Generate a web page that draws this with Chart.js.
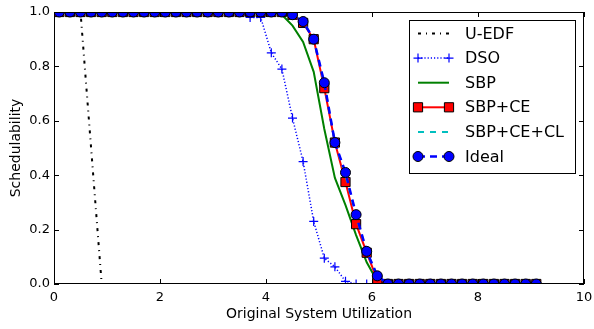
<!DOCTYPE html>
<html lang="en">
<head>
<meta charset="UTF-8" />
<title>Schedulability vs. Original System Utilization</title>
<script src="https://cdn.jsdelivr.net/npm/chart.js@4.4.1/dist/chart.umd.min.js"></script>
<style>
  html, body { margin: 0; padding: 0; background: #fff; }
  #wrap { width: 594px; height: 329px; }
</style>
</head>
<body>
<div id="wrap"><canvas id="schedChart"></canvas></div>
<script>
  // utilization sample points (x axis)
  const utilization = [0.1, 0.3, 0.5, 0.7, 0.9, 1.1, 1.3, 1.5, 1.7, 1.9,
    2.1, 2.3, 2.5, 2.7, 2.9, 3.1, 3.3, 3.5, 3.7, 3.9,
    4.1, 4.3, 4.5, 4.7, 4.9, 5.1, 5.3, 5.5, 5.7, 5.9,
    6.1, 6.3, 6.5, 6.7, 6.9, 7.1, 7.3, 7.5, 7.7, 7.9,
    8.1, 8.3, 8.5, 8.7, 8.9, 9.1];

  const uEdf = [1, 1, 1, 0.5, 0, 0, 0, 0, 0, 0,
    0, 0, 0, 0, 0, 0, 0, 0, 0, 0,
    0, 0, 0, 0, 0, 0, 0, 0, 0, 0,
    0, 0, 0, 0, 0, 0, 0, 0, 0, 0,
    0, 0, 0, 0, 0, 0];

  const dso = [1, 1, 1, 1, 1, 1, 1, 1, 1, 1,
    1, 1, 1, 1, 1, 1, 1, 1, 0.98, 0.98,
    0.85, 0.79, 0.61, 0.45, 0.23, 0.095, 0.063, 0.01, 0, 0,
    0, 0, 0, 0, 0, 0, 0, 0, 0, 0,
    0, 0, 0, 0, 0, 0];

  const sbp = [1, 1, 1, 1, 1, 1, 1, 1, 1, 1,
    1, 1, 1, 1, 1, 1, 1, 1, 1, 1,
    1, 0.99, 0.95, 0.89, 0.78, 0.57, 0.39, 0.29, 0.18, 0.08,
    0.01, 0, 0, 0, 0, 0, 0, 0, 0, 0,
    0, 0, 0, 0, 0, 0];

  const sbpCe = [1, 1, 1, 1, 1, 1, 1, 1, 1, 1,
    1, 1, 1, 1, 1, 1, 1, 1, 1, 1,
    1, 1, 0.99, 0.96, 0.9, 0.72, 0.52, 0.375, 0.22, 0.115,
    0.015, 0, 0, 0, 0, 0, 0, 0, 0, 0,
    0, 0, 0, 0, 0, 0];

  const sbpCeCl = [1, 1, 1, 1, 1, 1, 1, 1, 1, 1,
    1, 1, 1, 1, 1, 1, 1, 1, 1, 1,
    1, 1, 0.99, 0.965, 0.9, 0.735, 0.52, 0.4, 0.25, 0.12,
    0.03, 0, 0, 0, 0, 0, 0, 0, 0, 0,
    0, 0, 0, 0, 0, 0];

  const ideal = [1, 1, 1, 1, 1, 1, 1, 1, 1, 1,
    1, 1, 1, 1, 1, 1, 1, 1, 1, 1,
    1, 1, 0.99, 0.965, 0.9, 0.74, 0.52, 0.41, 0.255, 0.12,
    0.03, 0, 0, 0, 0, 0, 0, 0, 0, 0,
    0, 0, 0, 0, 0, 0];

  const xTicks = [0, 2, 4, 6, 8, 10];
  const yTicks = [0, 0.2, 0.4, 0.6, 0.8, 1.0];

  const FONT = "'DejaVu Sans', sans-serif";

  function pts(ys) {
    return utilization.map((x, i) => ({ x: x, y: ys[i] }));
  }

  const datasets = [
    {
      label: "U-EDF", data: pts(uEdf),
      borderColor: "#000000", borderWidth: 2, borderDash: [3, 5, 1, 5],
      pointRadius: 0, order: 6
    },
    {
      label: "DSO", data: pts(dso),
      borderColor: "#0000ff", borderWidth: 1.5, borderDash: [1.2, 2],
      pointStyle: "cross", pointRadius: 4.5, pointBorderWidth: 1.2,
      pointBorderColor: "#0000ff", order: 5
    },
    {
      label: "SBP", data: pts(sbp),
      borderColor: "#008000", borderWidth: 2,
      pointRadius: 0, order: 4
    },
    {
      label: "SBP+CE", data: pts(sbpCe),
      borderColor: "#ff0000", borderWidth: 2,
      pointStyle: "rect", pointRadius: 6.5, pointBorderWidth: 1,
      pointBackgroundColor: "#ff0000", pointBorderColor: "#000000", order: 3
    },
    {
      label: "SBP+CE+CL", data: pts(sbpCeCl),
      borderColor: "#00bfbf", borderWidth: 2, borderDash: [6, 6],
      pointRadius: 0, order: 2
    },
    {
      label: "Ideal", data: pts(ideal),
      borderColor: "#0000ff", borderWidth: 2.5, borderDash: [7, 5],
      pointStyle: "circle", pointRadius: 5, pointBorderWidth: 1,
      pointBackgroundColor: "#0000ff", pointBorderColor: "#000000", order: 1
    }
  ];
  datasets.forEach(d => {
    d.tension = 0;
    d.fill = false;
    d.clip = 0;
    d.pointHoverRadius = d.pointRadius;
  });

  // frame around the plot with matplotlib-style inward ticks
  const frameTicks = {
    id: "frameTicks",
    afterDatasetsDraw(chart) {
      const { ctx, chartArea: a, scales } = chart;
      const len = 5;
      ctx.save();
      ctx.strokeStyle = "#000";
      ctx.lineWidth = 1;
      ctx.beginPath();
      xTicks.forEach(v => {
        const px = Math.round(scales.x.getPixelForValue(v)) + 0.5;
        ctx.moveTo(px, a.bottom); ctx.lineTo(px, a.bottom - len);
        ctx.moveTo(px, a.top); ctx.lineTo(px, a.top + len);
      });
      yTicks.forEach(v => {
        const py = Math.round(scales.y.getPixelForValue(v)) + 0.5;
        ctx.moveTo(a.left, py); ctx.lineTo(a.left + len, py);
        ctx.moveTo(a.right, py); ctx.lineTo(a.right - len, py);
      });
      ctx.stroke();
      ctx.strokeRect(Math.round(a.left) + 0.5, Math.round(a.top) + 0.5,
        Math.round(a.right - a.left) - 1, Math.round(a.bottom - a.top) - 1);
      ctx.restore();
    }
  };

  // boxed legend in the upper right of the plot
  const boxLegend = {
    id: "boxLegend",
    afterDraw(chart) {
      const { ctx, chartArea: a } = chart;
      const w = 166, h = 153;
      const x0 = a.right - 9 - w, y0 = a.top + 8;
      const rowH = 24.6;
      ctx.save();
      ctx.fillStyle = "#fff";
      ctx.fillRect(x0, y0, w, h);
      ctx.strokeStyle = "#000";
      ctx.lineWidth = 1;
      ctx.strokeRect(Math.round(x0) + 0.5, Math.round(y0) + 0.5, w, h);
      ctx.font = "16px " + FONT;
      ctx.textBaseline = "middle";
      chart.data.datasets.forEach((ds, i) => {
        const y = y0 + 13.5 + i * rowH;
        const lx0 = x0 + 9, lx1 = x0 + 40;
        ctx.save();
        ctx.strokeStyle = ds.borderColor;
        ctx.lineWidth = ds.borderWidth;
        ctx.setLineDash(ds.borderDash || []);
        ctx.beginPath();
        ctx.moveTo(lx0, y); ctx.lineTo(lx1, y);
        ctx.stroke();
        ctx.setLineDash([]);
        if (ds.pointRadius > 0) {
          ctx.fillStyle = ds.pointBackgroundColor || ds.borderColor;
          ctx.strokeStyle = ds.pointBorderColor;
          ctx.lineWidth = ds.pointBorderWidth;
          const opts = { pointStyle: ds.pointStyle, radius: ds.pointRadius, rotation: 0, borderWidth: ds.pointBorderWidth };
          Chart.helpers.drawPoint(ctx, opts, lx0, y);
          Chart.helpers.drawPoint(ctx, opts, lx1, y);
        }
        ctx.restore();
        ctx.fillStyle = "#000";
        ctx.fillText(ds.label, x0 + 56, y + 1);
      });
      ctx.restore();
    }
  };

  new Chart(document.getElementById("schedChart"), {
    type: "line",
    data: { datasets: datasets },
    plugins: [frameTicks, boxLegend],
    options: {
      responsive: true,
      maintainAspectRatio: false,
      animation: false,
      devicePixelRatio: 1,
      layout: { padding: { top: 12, right: 10, left: 0, bottom: 0 } },
      plugins: { legend: { display: false }, tooltip: { enabled: false } },
      scales: {
        x: {
          type: "linear", min: 0, max: 10,
          afterFit(scale) {
            scale.height = 45;
            scale.paddingLeft = 0;
            scale.paddingRight = 0;
          },
          afterBuildTicks(scale) { scale.ticks = xTicks.map(v => ({ value: v })); },
          grid: { display: false, drawTicks: false },
          border: { display: false },
          ticks: { color: "#000", padding: 6, font: { family: FONT, size: 13 },
            maxRotation: 0, callback: v => String(v) },
          title: { display: true, text: "Original System Utilization", color: "#000",
            font: { family: FONT, size: 14 }, padding: { top: 4, bottom: 6 } }
        },
        y: {
          type: "linear", min: 0, max: 1,
          afterFit(scale) {
            scale.width = 54;
            scale.paddingTop = 0;
            scale.paddingBottom = 0;
          },
          afterBuildTicks(scale) { scale.ticks = yTicks.map(v => ({ value: v })); },
          grid: { display: false, drawTicks: false },
          border: { display: false },
          ticks: { color: "#000", padding: 4, font: { family: FONT, size: 13 },
            callback: v => Number(v).toFixed(1) },
          title: { display: true, text: "Schedulability", color: "#000",
            font: { family: FONT, size: 14 }, padding: { top: 8, bottom: 4 } }
        }
      }
    }
  });
</script>
</body>
</html>
